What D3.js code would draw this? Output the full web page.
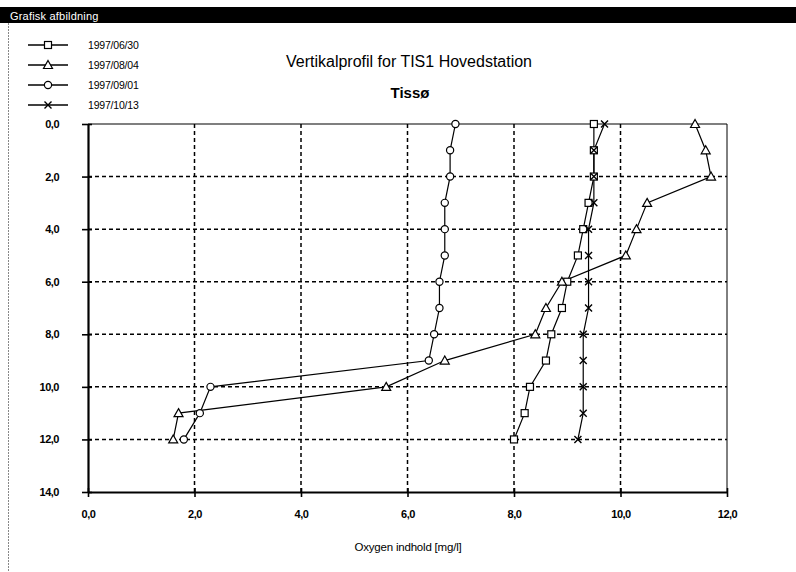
<!DOCTYPE html>
<html><head><meta charset="utf-8">
<script src="https://cdn.jsdelivr.net/npm/d3@7"></script>
<style>body{margin:0;background:#fff}svg{display:block}text{font-family:"Liberation Sans",Arial,sans-serif}</style>
</head><body><svg id="c" width="796" height="572"></svg>
<script>
const depths = [0,1,2,3,4,5,6,7,8,9,10,11,12];
const seriesNames = ["1997/06/30","1997/08/04","1997/09/01","1997/10/13"];
const markers = ["square","triangle","circle","cross"];
const s0630 = [9.5,9.5,9.5,9.4,9.3,9.2,9.0,8.9,8.7,8.6,8.3,8.2,8.0];
const s0804 = [11.4,11.6,11.7,10.5,10.3,10.1,8.9,8.6,8.4,6.7,5.6,1.7,1.6];
const s0901 = [6.9,6.8,6.8,6.7,6.7,6.7,6.6,6.6,6.5,6.4,2.3,2.1,1.8];
const s1013 = [9.7,9.5,9.5,9.5,9.4,9.4,9.4,9.4,9.3,9.3,9.3,9.3,9.2];
const xTicks = [0,2,4,6,8,10,12];
const yTicks = [0,2,4,6,8,10,12,14];
const title = "Vertikalprofil for TIS1 Hovedstation";
const subtitle = "Tissø";
const xTitle = "Oxygen indhold [mg/l]";
const windowTitle = "Grafisk afbildning";

const allSeries = [s0630,s0804,s0901,s1013];
const svg = d3.select("#c");
const L=88,R=727,T=124,B=492;
const x = d3.scaleLinear().domain([0,12]).range([L,R]);
const y = d3.scaleLinear().domain([0,14]).range([T,B]);
const fmt = v => d3.format(".1f")(v).replace(".",",");

// window bar
svg.append("rect").attr("x",0).attr("y",7).attr("width",796).attr("height",16).attr("fill","#000");
svg.append("text").attr("x",10).attr("y",20).attr("fill","#fff").attr("font-size",11).attr("letter-spacing","0.2").text(windowTitle);
svg.append("line").attr("x1",8.5).attr("x2",8.5).attr("y1",23).attr("y2",572).attr("stroke","#888").attr("stroke-width",1).attr("stroke-dasharray","2,1");

// titles
svg.append("text").attr("x",409).attr("y",67).attr("text-anchor","middle").attr("font-size",16).text(title);
svg.append("text").attr("x",410).attr("y",98).attr("text-anchor","middle").attr("font-size",15).attr("font-weight","bold").text(subtitle);

// grid
const g = svg.append("g");
g.selectAll(".vg").data(xTicks.filter(t=>t>0&&t<12)).join("line")
 .attr("x1",d=>x(d)).attr("x2",d=>x(d)).attr("y1",T).attr("y2",B)
 .attr("stroke","#000").attr("stroke-width",1.5).attr("stroke-dasharray","4,3");
g.selectAll(".hg").data(yTicks.filter(t=>t>0&&t<14)).join("line")
 .attr("x1",L).attr("x2",R).attr("y1",d=>y(d)).attr("y2",d=>y(d))
 .attr("stroke","#000").attr("stroke-width",1.5).attr("stroke-dasharray","4,3");
// frame
g.append("line").attr("x1",L).attr("x2",R).attr("y1",T).attr("y2",T).attr("stroke","#000").attr("stroke-width",1.2);
g.append("line").attr("x1",R).attr("x2",R).attr("y1",T).attr("y2",B).attr("stroke","#000").attr("stroke-width",1);

// axes
const xa = svg.append("g").attr("transform",`translate(0,${B})`)
 .call(d3.axisBottom(x).tickValues(xTicks).tickFormat(fmt).tickSize(5).tickSizeOuter(0).tickPadding(13));
xa.select(".domain").attr("stroke-width",2.2);
xa.selectAll(".tick line").attr("y1",-4).attr("stroke-width",1.6);
xa.selectAll("text").attr("font-size",11).attr("font-weight","bold").attr("font-family","'Liberation Sans',Arial,sans-serif").attr("letter-spacing","-0.5");
const ya = svg.append("g").attr("transform",`translate(${L},0)`)
 .call(d3.axisLeft(y).tickValues(yTicks).tickFormat(fmt).tickSize(6).tickSizeOuter(0).tickPadding(23));
ya.select(".domain").attr("stroke-width",2.2);
ya.selectAll(".tick line").attr("x1",4).attr("stroke-width",1.6);
ya.selectAll("text").attr("font-size",11).attr("font-weight","bold").attr("font-family","'Liberation Sans',Arial,sans-serif").attr("letter-spacing","-0.5");

svg.append("text").attr("x",408).attr("y",551).attr("text-anchor","middle").attr("font-size",11.5).attr("letter-spacing","-0.2").text(xTitle);

// markers
function drawMarker(sel, type, cx, cy){
  if(type==="square") sel.append("rect").attr("x",cx-3.5).attr("y",cy-3.5).attr("width",7).attr("height",7).attr("fill","#fff").attr("stroke","#000").attr("stroke-width",1.2);
  else if(type==="triangle") sel.append("path").attr("d",`M${cx},${cy-4.5}L${cx+4.5},${cy+3.5}L${cx-4.5},${cy+3.5}Z`).attr("fill","#fff").attr("stroke","#000").attr("stroke-width",1.2);
  else if(type==="circle") sel.append("circle").attr("cx",cx).attr("cy",cy).attr("r",3.6).attr("fill","#fff").attr("stroke","#000").attr("stroke-width",1.2);
  else sel.append("path").attr("d",`M${cx-3.5},${cy-3.5}L${cx+3.5},${cy+3.5}M${cx+3.5},${cy-3.5}L${cx-3.5},${cy+3.5}`).attr("stroke","#000").attr("stroke-width",1.4);
}
const line = d3.line().x(d=>x(d[0])).y(d=>y(d[1]));
allSeries.forEach((vals,i)=>{
  const pts = vals.map((v,j)=>[v,depths[j]]);
  svg.append("path").attr("d",line(pts)).attr("fill","none").attr("stroke","#000").attr("stroke-width",1.2);
});
allSeries.forEach((vals,i)=>{
  const mg = svg.append("g");
  vals.forEach((v,j)=>drawMarker(mg, markers[i], x(v), y(depths[j])));
});

// legend
seriesNames.forEach((n,i)=>{
  const ly = 45 + i*20;
  svg.append("line").attr("x1",28).attr("x2",68).attr("y1",ly).attr("y2",ly).attr("stroke","#000").attr("stroke-width",1.4);
  drawMarker(svg.append("g"), markers[i], 48, ly);
  svg.append("text").attr("x",88).attr("y",ly+4).attr("font-size",10.5).attr("letter-spacing","-0.2").text(n);
});
</script></body></html>
